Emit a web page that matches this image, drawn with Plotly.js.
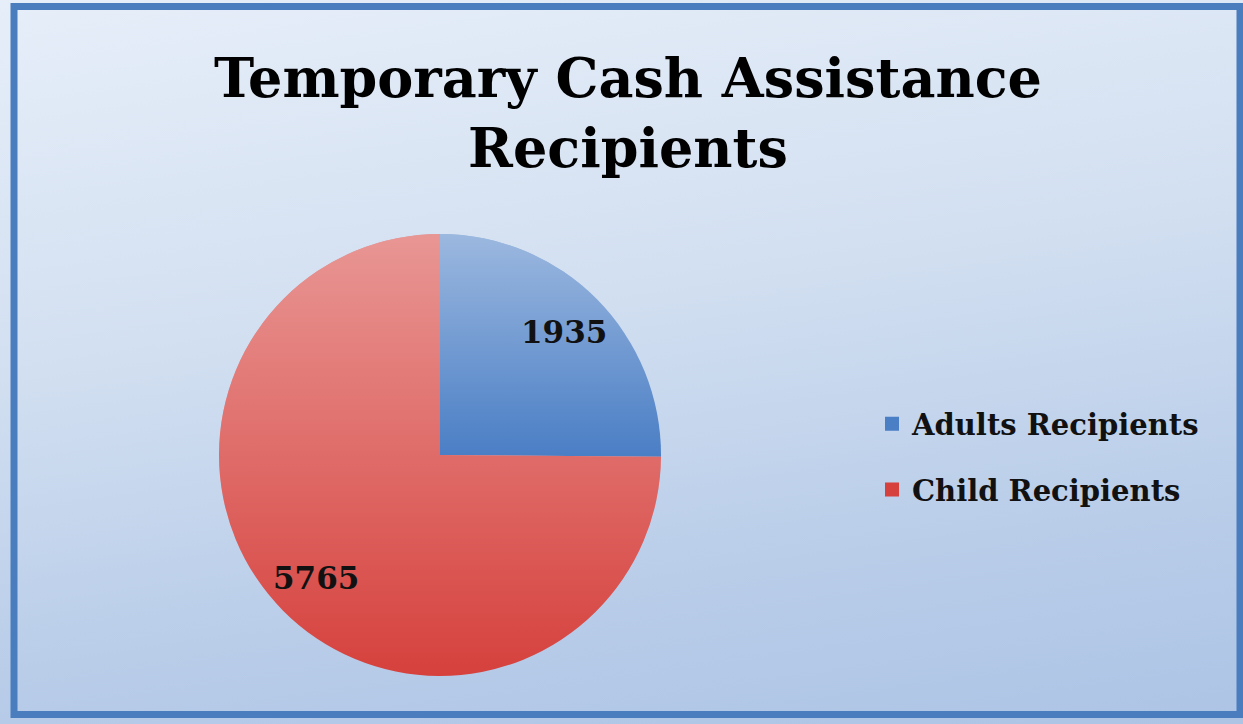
<!DOCTYPE html>
<html>
<head>
<meta charset="utf-8">
<script src="https://cdn.plot.ly/plotly-3.0.1.min.js"></script>
<style>
  html, body { margin: 0; padding: 0; }
  #chart { width: 1243px; height: 724px;
    background: linear-gradient(172deg, #e6eef9 0%, #d3e0f1 40%, #b9cde9 75%, #adc4e5 100%); }
</style>
</head>
<body>
<div id="chart"></div>
<script>
// ---- data ----
const labels = ["Adults Recipients", "Child Recipients"];
const values = [1935, 5765];
const colors = ["#4a7ec5", "#d6413d"];
const titleText = "Temporary Cash Assistance<br>Recipients";

// ---- layout geometry ----
const W = 1243, H = 724;
const pieCx = 440, pieCy = 455, pieR = 221;
const domX = [(pieCx - pieR) / W, (pieCx + pieR) / W];
const domY = [(H - pieCy - pieR) / H, (H - pieCy + pieR) / H];
const serif = "DejaVu Serif, serif";

const pie = {
  type: "pie",
  labels: labels,
  values: values,
  sort: false,
  direction: "clockwise",
  rotation: 0,
  marker: { colors: colors, line: { width: 0 } },
  textinfo: "none",
  hoverinfo: "label+value+percent",
  showlegend: false,
  domain: { x: domX, y: domY }
};

// legend entries (one per category, same colours as slices)
const legendTraces = labels.map((lab, i) => ({
  type: "scatter",
  mode: "markers",
  x: [null], y: [null],
  name: lab,
  legendgroup: "g" + i,
  marker: { symbol: "square", size: 14, color: colors[i] },
  showlegend: true,
  hoverinfo: "skip"
}));

// value labels placed at the mid-angle of each slice
const total = values.reduce((a, b) => a + b, 0);
let cum = 0;
const annotations = values.map((v, i) => {
  const mid = (cum + v / 2) / total * 2 * Math.PI;
  cum += v;
  const rr = 0.79 * pieR;
  const px = pieCx + rr * Math.sin(mid);
  const py = pieCy - rr * Math.cos(mid);
  return {
    x: px / W, y: (H - py) / H, xref: "paper", yref: "paper",
    text: "<b>" + v + "</b>", showarrow: false,
    font: { family: serif, size: 31, color: "#111111" },
    xanchor: "center", yanchor: "middle"
  };
});

// soft vertical shading per slice (white fading downward over each slice's own extent),
// slice outlines computed from the same values as the pie
function sliceShadeSvg() {
  const S = 200, c = 100, r = 100;
  let acc = 0, defs = "", paths = "";
  values.forEach((v, i) => {
    const a0 = acc / total * 2 * Math.PI;
    acc += v;
    const a1 = acc / total * 2 * Math.PI;
    const x0 = c + r * Math.sin(a0), y0 = c - r * Math.cos(a0);
    const x1 = c + r * Math.sin(a1), y1 = c - r * Math.cos(a1);
    const large = (a1 - a0) > Math.PI ? 1 : 0;
    defs += "<linearGradient id='g" + i + "' x1='0' y1='0' x2='0' y2='1'>" +
      "<stop offset='0' stop-color='white' stop-opacity='0.45'/>" +
      "<stop offset='1' stop-color='white' stop-opacity='0'/></linearGradient>";
    paths += "<path d='M" + c + "," + c + " L" + x0.toFixed(3) + "," + y0.toFixed(3) +
      " A" + r + "," + r + " 0 " + large + " 1 " + x1.toFixed(3) + "," + y1.toFixed(3) +
      " Z' fill='url(#g" + i + ")'/>";
  });
  return "<svg xmlns='http://www.w3.org/2000/svg' width='" + S + "' height='" + S + "'>" +
    "<defs>" + defs + "</defs>" + paths + "</svg>";
}
const shadeUri = "data:image/svg+xml;charset=utf-8," + encodeURIComponent(sliceShadeSvg());

const layout = {
  width: W, height: H,
  margin: { l: 0, r: 0, t: 0, b: 0 },
  paper_bgcolor: "rgba(0,0,0,0)",
  plot_bgcolor: "rgba(0,0,0,0)",
  title: {
    text: "<b>" + titleText + "</b>",
    font: { family: serif, size: 54, color: "#000000" },
    x: 628 / W, xanchor: "center",
    y: 1 - 97 / H, yanchor: "top", yref: "paper"
  },
  xaxis: { visible: false, range: [0, 1] },
  yaxis: { visible: false, range: [0, 1] },
  showlegend: true,
  legend: {
    x: 872 / W, xanchor: "left",
    y: (H - 457) / H, yanchor: "middle",
    font: { family: serif, size: 29, color: "#111111", weight: "bold" },
    bgcolor: "rgba(0,0,0,0)",
    tracegroupgap: 25,
    itemclick: false, itemdoubleclick: false
  },
  annotations: annotations,
  images: [{
    source: shadeUri, xref: "paper", yref: "paper",
    x: domX[0], y: domY[1], sizex: domX[1] - domX[0], sizey: domY[1] - domY[0],
    xanchor: "left", yanchor: "top", sizing: "stretch", layer: "above"
  }],
  shapes: [{
    type: "rect", xref: "paper", yref: "paper",
    x0: 14 / W, x1: 1240 / W, y0: (H - 714.5) / H, y1: (H - 6.5) / H,
    line: { color: "#4a7dbd", width: 7 }, fillcolor: "rgba(0,0,0,0)",
    layer: "above"
  }]
};

Plotly.newPlot("chart", [pie].concat(legendTraces), layout, { displayModeBar: false });
</script>
</body>
</html>
